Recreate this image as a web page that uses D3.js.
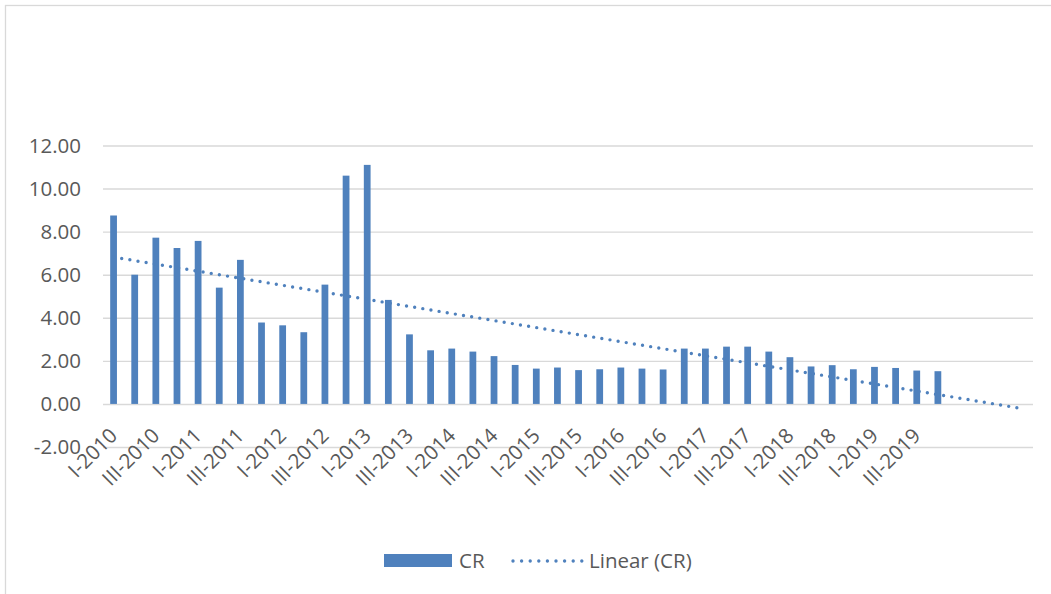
<!DOCTYPE html>
<html>
<head>
<meta charset="utf-8">
<script src="https://cdn.jsdelivr.net/npm/d3@7"></script>
<style>
  html, body { margin: 0; padding: 0; background: #ffffff; }
  svg { display: block; }
  text { font-family: "Open Sans", "Noto Sans", sans-serif; fill: #595959; }
</style>
</head>
<body>
<script>
// Quarterly CR values, I-2010 .. IV-2019
const quarters = [
  "I-2010", "II-2010", "III-2010", "IV-2010",
  "I-2011", "II-2011", "III-2011", "IV-2011",
  "I-2012", "II-2012", "III-2012", "IV-2012",
  "I-2013", "II-2013", "III-2013", "IV-2013",
  "I-2014", "II-2014", "III-2014", "IV-2014",
  "I-2015", "II-2015", "III-2015", "IV-2015",
  "I-2016", "II-2016", "III-2016", "IV-2016",
  "I-2017", "II-2017", "III-2017", "IV-2017",
  "I-2018", "II-2018", "III-2018", "IV-2018",
  "I-2019", "II-2019", "III-2019", "IV-2019"
];
const cr = [
  8.75, 6.00, 7.72, 7.24, 7.57, 5.40, 6.69, 3.78, 3.65, 3.33,
  5.54, 10.60, 11.10, 4.83, 3.23, 2.49, 2.57, 2.43, 2.22, 1.81,
  1.64, 1.69, 1.57, 1.61, 1.69, 1.64, 1.60, 2.57, 2.57, 2.66,
  2.66, 2.43, 2.17, 1.74, 1.80, 1.61, 1.72, 1.67, 1.55, 1.52
];
const forecastPeriods = 4;
const yTicks = [-2, 0, 2, 4, 6, 8, 10, 12];
const seriesName = "CR";
const trendName = "Linear (CR)";

const W = 1051, H = 594;
const color = "#4f81bd";
const gridColor = "#d9d9d9";

const svg = d3.select("body").append("svg")
  .attr("width", W).attr("height", H);

svg.append("rect").attr("width", W).attr("height", H).attr("fill", "#fff");

// chart area border
svg.append("rect")
  .attr("x", 5.5).attr("y", 5.5)
  .attr("width", 1100).attr("height", 700)
  .attr("fill", "none").attr("stroke", gridColor).attr("stroke-width", 1.3);

const plot = { left: 103, right: 1033 };
const nCats = quarters.length + forecastPeriods;

const x = d3.scaleBand()
  .domain(d3.range(nCats))
  .range([plot.left, plot.right])
  .padding(0);

const y = d3.scaleLinear()
  .domain([-2, 12])
  .range([447, 145.5]);

// value axis with gridlines
const yAxis = svg.append("g")
  .attr("transform", `translate(${plot.left},0)`)
  .call(d3.axisLeft(y)
    .tickValues(yTicks)
    .tickSize(-(plot.right - plot.left))
    .tickPadding(22)
    .tickFormat(d => d.toFixed(2)));
yAxis.select(".domain").remove();
yAxis.selectAll(".tick line")
  .attr("stroke", gridColor).attr("stroke-width", 1.4);
yAxis.selectAll(".tick text")
  .attr("font-size", 20.5).attr("fill", "#595959")
  .attr("font-family", "'Open Sans', sans-serif");

// bars
const barW = x.bandwidth() * 0.32;
svg.append("g").selectAll("rect")
  .data(cr)
  .join("rect")
  .attr("x", (d, i) => x(i) + (x.bandwidth() - barW) / 2)
  .attr("width", barW)
  .attr("y", d => y(Math.max(0, d)))
  .attr("height", d => Math.abs(y(d) - y(0)))
  .attr("fill", color);

// category axis labels (every other quarter)
const labelled = d3.range(quarters.length).filter(i => i % 2 === 0);
const xAxis = svg.append("g")
  .attr("transform", `translate(0,${y(0)})`)
  .call(d3.axisBottom(x)
    .tickValues(labelled)
    .tickSize(0)
    .tickFormat(i => quarters[i]));
xAxis.select(".domain").remove();
xAxis.selectAll(".tick text")
  .attr("y", 0).attr("dy", 0)
  .attr("text-anchor", "end")
  .attr("transform", "translate(5,33) rotate(-45)")
  .attr("font-size", 20.5).attr("fill", "#595959")
  .attr("font-family", "'Open Sans', sans-serif");

// least-squares linear trend, extended forward
const n = cr.length;
const xs = d3.range(1, n + 1);
const mx = d3.mean(xs), my = d3.mean(cr);
const sxy = d3.sum(xs, (v, i) => (v - mx) * (cr[i] - my));
const sxx = d3.sum(xs, v => (v - mx) * (v - mx));
const slope = sxy / sxx;
const intercept = my - slope * mx;
const trendPts = [1, nCats].map(k => [k, intercept + slope * k]);

svg.append("path")
  .datum(trendPts)
  .attr("d", d3.line()
    .x(d => x(d[0] - 1) + x.bandwidth() / 2)
    .y(d => y(d[1])))
  .attr("fill", "none")
  .attr("stroke", color)
  .attr("stroke-width", 3.4)
  .attr("stroke-linecap", "round")
  .attr("stroke-dasharray", "0 8.25");

// legend
const legend = svg.append("g");
legend.append("rect")
  .attr("x", 384).attr("y", 554).attr("width", 68).attr("height", 13)
  .attr("fill", color);
legend.append("text")
  .attr("x", 459).attr("y", 567.5)
  .attr("font-size", 20.5).text(seriesName);
legend.append("line")
  .attr("x1", 513).attr("x2", 582).attr("y1", 561).attr("y2", 561)
  .attr("stroke", color).attr("stroke-width", 3.4)
  .attr("stroke-linecap", "round").attr("stroke-dasharray", "0 8.6");
legend.append("text")
  .attr("x", 589).attr("y", 567.5)
  .attr("font-size", 20.5).text(trendName);
</script>
</body>
</html>
